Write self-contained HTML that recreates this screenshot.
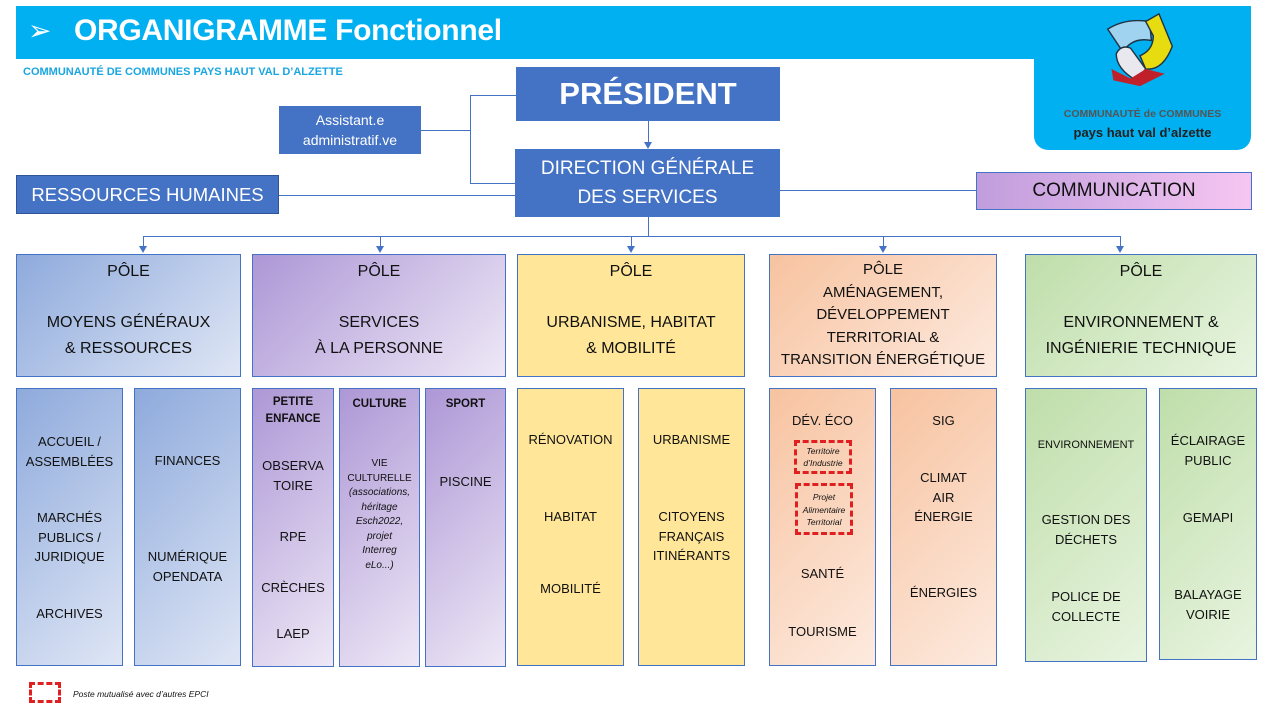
<!DOCTYPE html>
<html><head><meta charset="utf-8"><style>
*{margin:0;padding:0;box-sizing:border-box}
body{width:1280px;height:720px;position:relative;background:#fff;font-family:"Liberation Sans","DejaVu Sans",sans-serif;color:#111;overflow:hidden}
div{position:absolute}
.b{border:1px solid #4472c4}
.dk{background:#4472c4;color:#fff;text-align:center;display:flex;align-items:center;justify-content:center}
.t{text-align:center;font-size:13px;line-height:19.5px}
.ln{background:#4472c4}
.bl{background:linear-gradient(135deg,#8eaadc,#dfe6f5)}
.pu{background:linear-gradient(135deg,#ad97d6,#eee8f6)}
.ye{background:#ffe699}
.or{background:linear-gradient(135deg,#f7c3a0,#fdeadf)}
.gr{background:linear-gradient(135deg,#bfdeaa,#e8f4e0)}
.p{font-size:16px;line-height:26px}
.ar{width:0;height:0;border-left:4px solid transparent;border-right:4px solid transparent;border-top:7px solid #4472c4}
.ds{border:3px dashed #e02020}
</style></head><body>
<div style="left:16px;top:6px;width:1235px;height:53px;background:#00b0f0"></div>
<div style="left:1034px;top:50px;width:217px;height:100px;background:#00b0f0;border-radius:0 0 14px 14px"></div>
<div style="left:28px;top:14px;color:#fff;font-size:28px">➢</div>
<div style="left:74px;top:14px;color:#fff;font-size:30px;font-weight:bold;letter-spacing:-0.3px">ORGANIGRAMME Fonctionnel</div>
<div style="left:23px;top:66px;color:#1aa6e0;font-size:11px;font-weight:bold">COMMUNAUTÉ DE COMMUNES PAYS HAUT VAL D’ALZETTE</div>
<svg style="position:absolute;left:1102px;top:12px" width="76" height="76" viewBox="0 0 80 80">
<path d="M6 18 Q25 6 50 10 L52 30 Q32 26 22 42 Z" fill="#9fd3f0" stroke="#234" stroke-width="1.5"/>
<path d="M46 10 L60 2 L74 36 Q64 62 46 60 L40 46 Q54 40 54 25 Z" fill="#e6dc10" stroke="#234" stroke-width="1.5"/>
<path d="M15 44 Q20 34 30 38 L46 60 L36 72 Q15 60 15 44 Z" fill="#e8e8ee" stroke="#234" stroke-width="1.5"/>
<path d="M10 60 L30 70 L46 60 L66 65 L40 78 L12 72 Z" fill="#c0202a"/>
</svg>
<div style="left:1040px;top:108px;width:205px;text-align:center;font-size:10.5px;font-weight:bold;color:#555">COMMUNAUTÉ de COMMUNES</div>
<div style="left:1040px;top:125px;width:205px;text-align:center;font-size:13px;font-weight:bold;color:#222">pays haut val d’alzette</div>

<div class="ln" style="left:421px;top:130px;width:50px;height:1px"></div>
<div class="ln" style="left:470px;top:95px;width:1px;height:89px"></div>
<div class="ln" style="left:470px;top:95px;width:46px;height:1px"></div>
<div class="ln" style="left:470px;top:183px;width:46px;height:1px"></div>
<div class="ln" style="left:279px;top:195px;width:236px;height:1px"></div>
<div class="ln" style="left:780px;top:190px;width:196px;height:1px"></div>
<div class="ln" style="left:648px;top:121px;width:1px;height:22px"></div>
<div class="ar" style="left:644px;top:142px"></div>
<div class="ln" style="left:648px;top:217px;width:1px;height:19px"></div>
<div class="ln" style="left:143px;top:236px;width:977px;height:1px"></div>
<div class="ln" style="left:143px;top:236px;width:1px;height:12px"></div><div class="ar" style="left:139px;top:246px"></div>
<div class="ln" style="left:380px;top:236px;width:1px;height:12px"></div><div class="ar" style="left:376px;top:246px"></div>
<div class="ln" style="left:631px;top:236px;width:1px;height:12px"></div><div class="ar" style="left:627px;top:246px"></div>
<div class="ln" style="left:883px;top:236px;width:1px;height:12px"></div><div class="ar" style="left:879px;top:246px"></div>
<div class="ln" style="left:1120px;top:236px;width:1px;height:12px"></div><div class="ar" style="left:1116px;top:246px"></div>

<div class="dk" style="left:516px;top:67px;width:264px;height:54px;font-size:31px;font-weight:bold">PRÉSIDENT</div>
<div class="dk" style="left:279px;top:106px;width:142px;height:48px;font-size:14px;line-height:20px">Assistant.e<br>administratif.ve</div>
<div class="dk" style="left:515px;top:149px;width:265px;height:68px;font-size:19px;line-height:29px">DIRECTION GÉNÉRALE<br>DES SERVICES</div>
<div class="dk" style="left:16px;top:175px;width:263px;height:39px;font-size:18.5px;border:1px solid #2f5597">RESSOURCES HUMAINES</div>
<div class="b" style="left:976px;top:172px;width:276px;height:38px;background:linear-gradient(90deg,#c09ddc,#f6c6f2);display:flex;align-items:center;justify-content:center;font-size:19px">COMMUNICATION</div>

<div class="b bl" style="left:16px;top:254px;width:225px;height:123px"></div>
<div class="t p" style="left:16px;top:259px;width:225px">PÔLE</div>
<div class="t p" style="left:16px;top:310px;width:225px">MOYENS GÉNÉRAUX<br>&amp; RESSOURCES</div>
<div class="b pu" style="left:252px;top:254px;width:254px;height:123px"></div>
<div class="t p" style="left:252px;top:259px;width:254px">PÔLE</div>
<div class="t p" style="left:252px;top:310px;width:254px">SERVICES<br>À LA PERSONNE</div>
<div class="b ye" style="left:517px;top:254px;width:228px;height:123px"></div>
<div class="t p" style="left:517px;top:259px;width:228px">PÔLE</div>
<div class="t p" style="left:517px;top:310px;width:228px">URBANISME, HABITAT<br>&amp; MOBILITÉ</div>
<div class="b or" style="left:769px;top:254px;width:228px;height:123px"></div>
<div class="t" style="left:769px;top:259px;width:228px;font-size:15px;line-height:22.5px">PÔLE<br>AMÉNAGEMENT,<br>DÉVELOPPEMENT<br>TERRITORIAL &amp;<br>TRANSITION ÉNERGÉTIQUE</div>
<div class="b gr" style="left:1025px;top:254px;width:232px;height:123px"></div>
<div class="t p" style="left:1025px;top:259px;width:232px">PÔLE</div>
<div class="t p" style="left:1025px;top:310px;width:232px">ENVIRONNEMENT &amp;<br>INGÉNIERIE TECHNIQUE</div>

<div class="b bl" style="left:16px;top:388px;width:107px;height:278px"></div>
<div class="t" style="left:16px;top:432px;width:107px">ACCUEIL /<br>ASSEMBLÉES</div>
<div class="t" style="left:16px;top:508px;width:107px">MARCHÉS<br>PUBLICS /<br>JURIDIQUE</div>
<div class="t" style="left:16px;top:604px;width:107px">ARCHIVES</div>
<div class="b bl" style="left:134px;top:388px;width:107px;height:278px"></div>
<div class="t" style="left:134px;top:451px;width:107px">FINANCES</div>
<div class="t" style="left:134px;top:547px;width:107px">NUMÉRIQUE<br>OPENDATA</div>

<div class="b pu" style="left:252px;top:388px;width:82px;height:279px"></div>
<div class="t" style="left:252px;top:394px;width:82px;font-size:11.5px;font-weight:bold;line-height:17px">PETITE<br>ENFANCE</div>
<div class="t" style="left:252px;top:456px;width:82px">OBSERVA<br>TOIRE</div>
<div class="t" style="left:252px;top:527px;width:82px">RPE</div>
<div class="t" style="left:252px;top:578px;width:82px">CRÈCHES</div>
<div class="t" style="left:252px;top:624px;width:82px">LAEP</div>
<div class="b pu" style="left:339px;top:388px;width:81px;height:279px"></div>
<div class="t" style="left:339px;top:395px;width:81px;font-size:11.5px;font-weight:bold">CULTURE</div>
<div class="t" style="left:339px;top:457px;width:81px;font-size:10px;line-height:14.5px">VIE<br>CULTURELLE<br><i>(associations,<br>héritage<br>Esch2022,<br>projet<br>Interreg<br>eLo...)</i></div>
<div class="b pu" style="left:425px;top:388px;width:81px;height:279px"></div>
<div class="t" style="left:425px;top:395px;width:81px;font-size:11.5px;font-weight:bold">SPORT</div>
<div class="t" style="left:425px;top:472px;width:81px">PISCINE</div>

<div class="b ye" style="left:517px;top:388px;width:107px;height:278px"></div>
<div class="t" style="left:517px;top:430px;width:107px">RÉNOVATION</div>
<div class="t" style="left:517px;top:507px;width:107px">HABITAT</div>
<div class="t" style="left:517px;top:579px;width:107px">MOBILITÉ</div>
<div class="b ye" style="left:638px;top:388px;width:107px;height:278px"></div>
<div class="t" style="left:638px;top:430px;width:107px">URBANISME</div>
<div class="t" style="left:638px;top:507px;width:107px">CITOYENS<br>FRANÇAIS<br>ITINÉRANTS</div>

<div class="b or" style="left:769px;top:388px;width:107px;height:278px"></div>
<div class="t" style="left:769px;top:411px;width:107px">DÉV. ÉCO</div>
<div class="ds" style="left:794px;top:440px;width:58px;height:34px"></div>
<div class="t" style="left:794px;top:445px;width:58px;font-size:8.5px;line-height:12px"><i>Territoire<br>d’Industrie</i></div>
<div class="ds" style="left:795px;top:483px;width:58px;height:52px"></div>
<div class="t" style="left:795px;top:491px;width:58px;font-size:8.5px;line-height:12.5px"><i>Projet<br>Alimentaire<br>Territorial</i></div>
<div class="t" style="left:769px;top:564px;width:107px">SANTÉ</div>
<div class="t" style="left:769px;top:622px;width:107px">TOURISME</div>
<div class="b or" style="left:890px;top:388px;width:107px;height:278px"></div>
<div class="t" style="left:890px;top:411px;width:107px">SIG</div>
<div class="t" style="left:890px;top:468px;width:107px">CLIMAT<br>AIR<br>ÉNERGIE</div>
<div class="t" style="left:890px;top:583px;width:107px">ÉNERGIES</div>

<div class="b gr" style="left:1025px;top:388px;width:122px;height:274px"></div>
<div class="t" style="left:1025px;top:436px;width:122px;font-size:11px">ENVIRONNEMENT</div>
<div class="t" style="left:1025px;top:510px;width:122px">GESTION DES<br>DÉCHETS</div>
<div class="t" style="left:1025px;top:587px;width:122px">POLICE DE<br>COLLECTE</div>
<div class="b gr" style="left:1159px;top:388px;width:98px;height:272px"></div>
<div class="t" style="left:1159px;top:431px;width:98px">ÉCLAIRAGE<br>PUBLIC</div>
<div class="t" style="left:1159px;top:508px;width:98px">GEMAPI</div>
<div class="t" style="left:1159px;top:585px;width:98px">BALAYAGE<br>VOIRIE</div>

<div class="ds" style="left:29px;top:682px;width:32px;height:21px"></div>
<div style="left:73px;top:689px;font-size:8.5px;font-style:italic">Poste mutualisé avec d’autres EPCI</div>
</body></html>
